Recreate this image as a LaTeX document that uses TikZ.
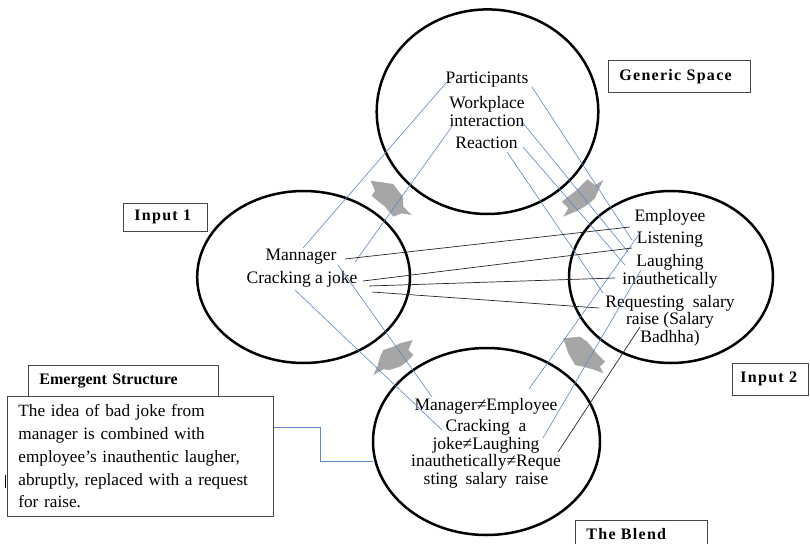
\documentclass[tikz,border=0pt]{standalone}
\usepackage{fontspec}
\setmainfont{Liberation Serif}
\newfontfamily\spacedfont{Liberation Serif}[LetterSpace=8.0]
\usetikzlibrary{shapes.geometric}

\definecolor{mapblue}{RGB}{88,134,200}
\definecolor{arrowgray}{RGB}{166,166,166}
\definecolor{framegray}{RGB}{70,70,70}

\tikzset{
  space/.style={ellipse, draw=black, line width=2.5pt, inner sep=0pt},
  mapline/.style={draw=mapblue, line width=0.6pt},
  linkline/.style={draw=black!85, line width=0.7pt},
  txt/.style={font=\fontsize{17.5}{17.5}\selectfont, align=center, inner sep=0pt},
  tag/.style={draw=framegray, line width=0.8pt, fill=white, anchor=north west,
    font=\fontsize{16}{18}\selectfont\spacedfont\bfseries,
    inner xsep=11pt, inner ysep=0pt, align=left},
  pointer/.style={fill=arrowgray, draw=none},
}

\begin{document}
\begin{tikzpicture}[x=1pt, y=-1pt]
  \useasboundingbox (0,0) rectangle (810,543);
  \clip (0,0) rectangle (810,543);

  % gray block arrows between the spaces
  \fill[pointer] (370.7,180.7) -- (393.3,184) -- (402.7,196.7) -- (403.3,206.7) -- (411.7,215)
    -- (401.7,213.3) -- (393.3,216.7) -- (385,206.7) -- (371.7,196) -- (375,190.7) -- cycle;
  \fill[pointer] (561.7,201.7) -- (576.7,190) -- (587.3,179.3) -- (595,185) -- (603.3,180)
    -- (599.3,188.3) -- (595,198.3) -- (589.3,203.3) -- (579.3,210) -- (563.3,216.7) -- (568.3,208.3) -- cycle;
  \fill[pointer] (563.3,338.3) -- (580,336.7) -- (587.3,341.7) -- (596.7,353.3) -- (605,361.7)
    -- (600,366.7) -- (603.3,373.3) -- (595,370) -- (583.3,366.7) -- (575,365) -- (568.3,353.3) -- (565,343.3) -- cycle;
  \fill[pointer] (383.3,350) -- (393.3,346.7) -- (400,343.3) -- (412.7,340) -- (408.3,350)
    -- (413.3,355) -- (406.7,361.7) -- (400,366.7) -- (389.3,370) -- (383.3,369.3) -- (373.3,375)
    -- (377.3,366.7) -- (380,356.7) -- cycle;

  % the four mental spaces
  \node[space, minimum width=221.6pt, minimum height=204.6pt] (gen) at (487.5,111.7) {};
  \node[space, minimum width=212.8pt, minimum height=172pt] (inA) at (303.6,277) {};
  \node[space, minimum width=204pt, minimum height=172pt] (inB) at (671,277) {};
  \node[space, minimum width=227pt, minimum height=187pt] (blend) at (486.5,441.5) {};

  % contents of the spaces
  \node[txt] (part) at (487,80) {Participants};
  \node[txt] (work) at (487,111.5) {Workplace\\interaction};
  \node[txt] (react) at (486.5,143) {Reaction};

  \node[txt] (mgr) at (301,257) {Mannager};
  \node[txt] (joke) at (302,279) {Cracking a joke};

  \node[txt] (emp) at (670,217) {Employee};
  \node[txt] (listen) at (670,240) {Listening};
  \node[txt] (laugh) at (670,271.5) {Laughing\\inauthetically};
  \node[txt] (request) at (670,320.5) {Requesting\hspace{0.25em} salary\\raise (Salary\\Badhha)};

  \node[txt] (bmgr) at (486,406) {Manager≠Employee};
  \node[txt] (bjoke) at (486,454) {Cracking\hspace{0.25em} a\\joke≠Laughing\\inauthetically≠Reque\\sting\hspace{0.2em} salary\hspace{0.2em} raise};

  % end points of the mappings
  \coordinate (partL) at (446,83);   \coordinate (mgrT) at (303,248);
  \coordinate (workL) at (453,125);  \coordinate (mgrR) at (355,262);
  \coordinate (partR) at (532,87);   \coordinate (listenT) at (632,240);
  \coordinate (workR) at (523,123);  \coordinate (listenB) at (628,252);
  \coordinate (reactR) at (523,147); \coordinate (laughL) at (625,265);
  \coordinate (reactB) at (507,152); \coordinate (requestT) at (603,293);
  \coordinate (mgrB) at (338,265);   \coordinate (bmgrL) at (432,397);
  \coordinate (jokeB) at (295,290);  \coordinate (bjokeL) at (442,430);
  \coordinate (empB) at (640,233);   \coordinate (bmgrR) at (529,389);
  \coordinate (laughB) at (641,270); \coordinate (bjokeR) at (543,438);
  \coordinate (requestB) at (640,327); \coordinate (bjokeRR) at (558,452);
  \coordinate (mgrE) at (345,259);   \coordinate (empL) at (630,227);
  \coordinate (jokeE1) at (363,281); \coordinate (listenL) at (632,248);
  \coordinate (jokeE2) at (369,286); \coordinate (inauthL) at (615,278);
  \coordinate (jokeE3) at (372,292); \coordinate (requestL) at (599,308);

  % generic space to the inputs
  \draw[mapline] (partL) -- (mgrT);
  \draw[mapline] (workL) -- (mgrR);
  \draw[mapline] (partR) -- (listenT);
  \draw[mapline] (workR) -- (listenB);
  \draw[mapline] (reactR) -- (laughL);
  \draw[mapline] (reactB) -- (requestT);

  % inputs to the blend
  \draw[mapline] (mgrB) -- (bmgrL);
  \draw[mapline] (jokeB) -- (bjokeL);
  \draw[mapline] (empB) -- (bmgrR);
  \draw[mapline] (laughB) -- (bjokeR);
  \draw[linkline] (requestB) -- (bjokeRR);

  % cross-space links between the inputs
  \draw[linkline] (mgrE) -- (empL);
  \draw[linkline] (jokeE1) -- (listenL);
  \draw[linkline] (jokeE2) -- (inauthL);
  \draw[linkline] (jokeE3) -- (requestL);

  % labels of the spaces
  \node[tag, minimum width=142pt, minimum height=32pt, text width=120pt] (gentag) at (608,60) {Generic Space};
  \node[tag, minimum width=84pt, minimum height=28pt, text width=62pt] (inAtag) at (123,203) {Input 1};
  \node[tag, inner xsep=8pt, minimum width=76pt, minimum height=32pt, text width=60pt] (inBtag) at (732,363) {\mbox{Input 2}};
  \node[tag, draw=none, fill=none, minimum width=132pt, minimum height=28pt, text width=110pt] (blendtag) at (575,520) {The Blend};
  \draw[framegray, line width=0.8pt] (blendtag.north west) rectangle ([yshift=-30pt]blendtag.south east);

  % emergent structure
  \node[tag, font=\fontsize{16}{18}\selectfont\bfseries, minimum width=190pt, minimum height=31pt, text width=168pt] (emtag) at (28,365) {Emergent Structure};
  \node[tag, font=\fontsize{17.2}{22.7}\selectfont, minimum width=266pt, minimum height=120pt, text width=244pt] (emtext) at (7,396)
    {The idea of bad joke from\\manager is combined with\\employee’s inauthentic laugher,\\abruptly, replaced with a request\\for raise.};
  \coordinate (emA) at (320,427);
  \coordinate (emB) at (320,461);
  \coordinate (blendL) at (373,461);
  \draw[mapline] (emtext.east |- emA) -- (emA) -- (emB) -- (blendL);
  \coordinate (tickT) at (5,475);
  \coordinate (tickB) at (5,488);
  \draw[black, line width=0.6pt] (tickT) -- (tickB);
\end{tikzpicture}
\end{document}
